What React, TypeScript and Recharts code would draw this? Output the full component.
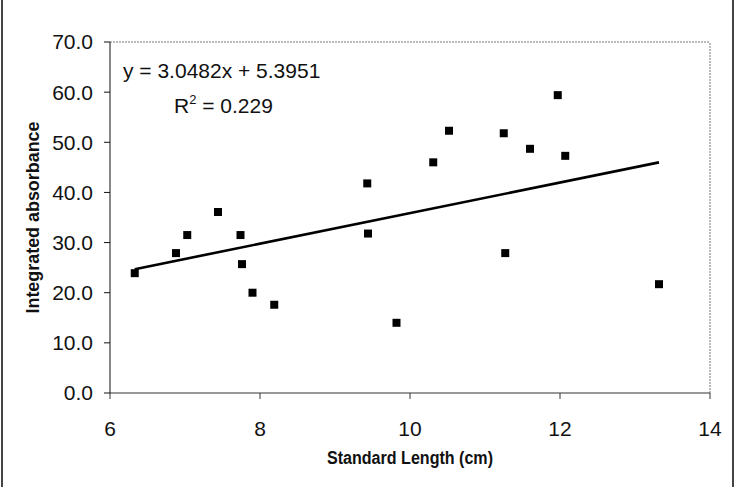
import {
  ScatterChart,
  Scatter,
  XAxis,
  YAxis,
  ZAxis,
  ReferenceLine,
  Label,
} from "recharts";

const lengths = [
  6.33, 6.88, 7.03, 7.44, 7.74, 7.76, 7.9, 8.19, 9.43, 9.44, 9.82, 10.31, 10.52,
  11.25, 11.27, 11.6, 11.97, 12.07, 13.32,
];
const absorbance = [
  23.9, 27.9, 31.5, 36.1, 31.5, 25.7, 20.0, 17.6, 41.8, 31.8, 14.0, 46.0, 52.3,
  51.8, 27.9, 48.7, 59.4, 47.3, 21.7,
];
const xTicks = [6, 8, 10, 12, 14];
const yTicks = [0, 10, 20, 30, 40, 50, 60, 70];
const slope = 3.0482;
const intercept = 5.3951;
const rSquared = "0.229";

const points = lengths.map((x, i) => ({ x, y: absorbance[i] }));
const xMin = Math.min(...lengths);
const xMax = Math.max(...lengths);
const trend: [{ x: number; y: number }, { x: number; y: number }] = [
  { x: xMin, y: slope * xMin + intercept },
  { x: xMax, y: slope * xMax + intercept },
];

const font = "'Liberation Sans', Arial, sans-serif";
const tickStyle = { fontSize: 21, fill: "#111", fontFamily: font };

// the scanned titles are a condensed bold face, squeeze them to fit
function XTitle({ viewBox }: any) {
  const cx = viewBox.x + viewBox.width / 2;
  return (
    <text
      x={cx}
      y={viewBox.y + 71}
      textAnchor="middle"
      fontSize={18}
      fontWeight={700}
      fontFamily={font}
      fill="#111"
      textLength={166}
      lengthAdjust="spacingAndGlyphs"
    >
      Standard Length (cm)
    </text>
  );
}

function YTitle({ viewBox }: any) {
  const cy = viewBox.y + viewBox.height / 2;
  const cx = 30;
  return (
    <text
      x={cx}
      y={cy}
      transform={`rotate(-90 ${cx} ${cy})`}
      textAnchor="middle"
      dominantBaseline="central"
      fontSize={18}
      fontWeight={700}
      fontFamily={font}
      fill="#111"
      textLength={192}
      lengthAdjust="spacingAndGlyphs"
    >
      Integrated absorbance
    </text>
  );
}

export default function App() {
  return (
    <div
      style={{
        position: "absolute",
        left: 1,
        top: 0,
        width: 733,
        height: 487,
        background: "#fff",
        borderLeft: "2px solid #444",
        borderRight: "2px solid #444",
        boxSizing: "border-box",
      }}
    >
      <ScatterChart
        width={729}
        height={487}
        margin={{ top: 42, right: 22, bottom: 0, left: -3 }}
      >
        <XAxis
          type="number"
          dataKey="x"
          domain={[6, 14]}
          ticks={xTicks}
          tickSize={6}
          tickMargin={22}
          tick={tickStyle}
          stroke="#333"
          height={94}
          allowDataOverflow
        >
          <Label content={<XTitle />} />
        </XAxis>
        <YAxis
          type="number"
          dataKey="y"
          domain={[0, 70]}
          ticks={yTicks}
          tickSize={6}
          tickMargin={11}
          tick={tickStyle}
          tickFormatter={(v: number) => v.toFixed(1)}
          stroke="#111"
          width={110}
          allowDataOverflow
        >
          <Label content={<YTitle />} />
        </YAxis>
        <ZAxis range={[64, 64]} />
        <ReferenceLine y={70} stroke="#777" strokeDasharray="2 1" />
        <ReferenceLine x={14} stroke="#777" strokeDasharray="2 1" />
        <ReferenceLine segment={trend} stroke="#000" strokeWidth={2.6} />
        <Scatter
          data={points}
          shape="square"
          fill="#000"
          isAnimationActive={false}
        />
      </ScatterChart>
      <svg
        width={733}
        height={487}
        style={{ position: "absolute", left: -3, top: 0, pointerEvents: "none" }}
      >
        <text x={123} y={78} fontSize={21} fontFamily={font} fill="#111">
          {`y = ${slope}x + ${intercept}`}
        </text>
        <text x={174} y={113} fontSize={21} fontFamily={font} fill="#111">
          R
          <tspan dy={-9} fontSize={13}>
            2
          </tspan>
          <tspan dy={9}>{` = ${rSquared}`}</tspan>
        </text>
      </svg>
    </div>
  );
}
